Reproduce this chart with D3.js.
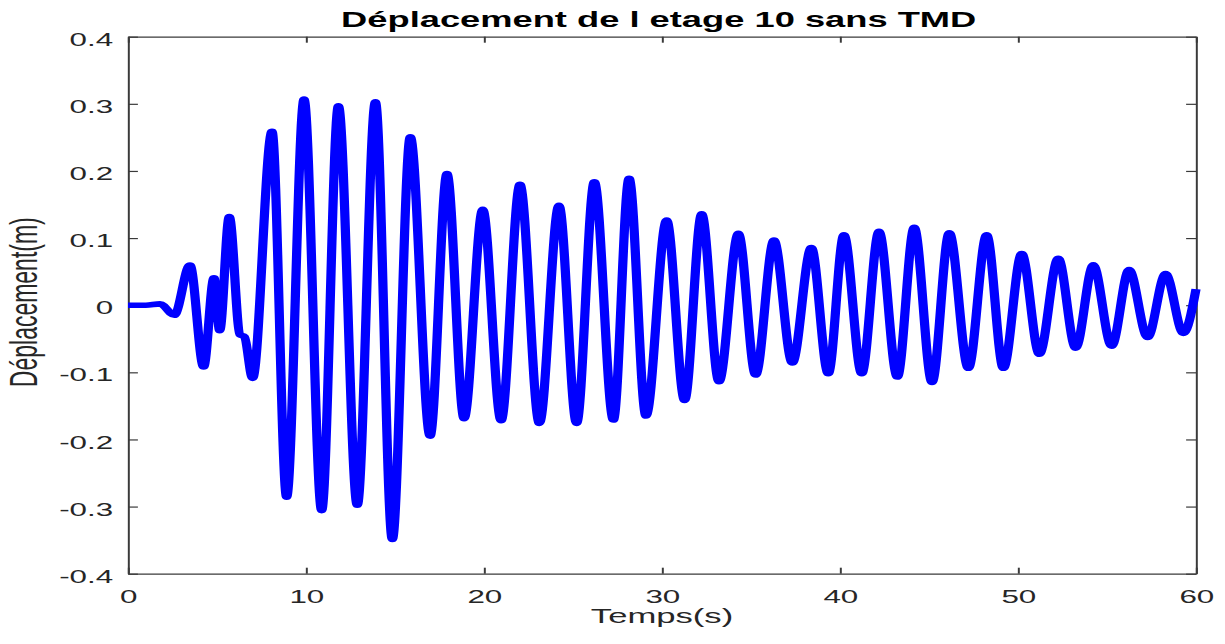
<!DOCTYPE html>
<html>
<head>
<meta charset="utf-8">
<script src="https://cdn.jsdelivr.net/npm/d3@7"></script>
<style>
  html, body { margin: 0; padding: 0; background: #ffffff; }
  svg { display: block; }
  text { font-family: "Liberation Sans", Arial, Helvetica, sans-serif; }
</style>
</head>
<body>
<svg id="chart" width="1225" height="644"></svg>
<script>
// ---- data (turning points of the response) ----
const timeS = [0, 1.0, 1.8, 2.6, 3.48, 4.25, 4.83, 5.15, 5.69, 6.29, 6.54, 7.0,
  8.09, 8.91, 9.89, 10.88, 11.82, 12.88, 13.9, 14.85, 15.86, 16.97, 17.92, 18.88,
  19.93, 20.96, 22.02, 23.11, 24.21, 25.2, 26.2, 27.27, 28.15, 29.1, 30.26, 31.27,
  32.23, 33.2, 34.29, 35.26, 36.29, 37.32, 38.39, 39.34, 40.22, 41.22, 42.19, 43.22,
  44.17, 45.17, 46.14, 47.21, 48.24, 49.18, 50.21, 51.2, 52.26, 53.24, 54.23, 55.26,
  56.24, 57.28, 58.29, 59.29, 60];
const deplacement = [0, 0.0, 0.002, -0.015, 0.060, -0.092, 0.041, -0.038, 0.132, -0.044, -0.047, -0.109,
  0.259, -0.286, 0.307, -0.306, 0.297, -0.298, 0.303, -0.349, 0.251, -0.195, 0.196, -0.169,
  0.143, -0.172, 0.180, -0.176, 0.149, -0.176, 0.184, -0.171, 0.189, -0.165, 0.127, -0.142,
  0.136, -0.114, 0.107, -0.104, 0.097, -0.086, 0.086, -0.102, 0.105, -0.102, 0.110, -0.107,
  0.116, -0.115, 0.108, -0.094, 0.105, -0.094, 0.077, -0.073, 0.070, -0.064, 0.060, -0.061,
  0.053, -0.048, 0.047, -0.042, 0.024];
const xTicks = [0, 10, 20, 30, 40, 50, 60];
const yTicks = [-0.4, -0.3, -0.2, -0.1, 0, 0.1, 0.2, 0.3, 0.4];
const titleText = "Déplacement de l etage 10 sans TMD";
const xLabelText = "Temps(s)";
const yLabelText = "Déplacement(m)";

// ---- layout (the reference is horizontally stretched; reproduce with a group scale) ----
const SX = 1.65;
const L = 128 / SX, R = 1196 / SX, T = 36.7, B = 573.7;

const svg = d3.select("#chart");
svg.append("rect").attr("width", 1225).attr("height", 644).attr("fill", "#ffffff");
const g = svg.append("g").attr("transform", `scale(${SX},1)`);

const x = d3.scaleLinear().domain([0, 60]).range([L, R]);
const y = d3.scaleLinear().domain([-0.4, 0.4]).range([B, T]);

const fmt = d => String(+d.toFixed(1));
const axisColor = "#3a3a3a";
const labelColor = "#262626";

function styleAxis(sel) {
  sel.select(".domain").attr("stroke", axisColor).attr("stroke-width", 1.2);
  sel.selectAll(".tick line").attr("stroke", axisColor).attr("stroke-width", 1.2);
  sel.selectAll(".tick text").attr("fill", labelColor).style("font-size", "19px")
     .style("font-family", '"Liberation Sans", Arial, Helvetica, sans-serif');
}

// bottom
const gx = g.append("g").attr("transform", `translate(0,${B})`)
  .call(d3.axisBottom(x).tickValues(xTicks).tickFormat(fmt).tickSize(-6).tickSizeOuter(0).tickPadding(15.5));
styleAxis(gx);
// top
const gxt = g.append("g").attr("transform", `translate(0,${T})`)
  .call(d3.axisTop(x).tickValues(xTicks).tickFormat("").tickSize(-6).tickSizeOuter(0));
styleAxis(gxt);
// left
const gy = g.append("g").attr("transform", `translate(${L},0)`)
  .call(d3.axisLeft(y).tickValues(yTicks).tickFormat(fmt).tickSize(-6).tickSizeOuter(0).tickPadding(9));
styleAxis(gy);
gy.selectAll(".tick text").attr("dy", "0.45em");
// right
const gyr = g.append("g").attr("transform", `translate(${R},0)`)
  .call(d3.axisRight(y).tickValues(yTicks).tickFormat("").tickSize(-6).tickSizeOuter(0));
styleAxis(gyr);

// line
const data = timeS.map((t, i) => ({ t, v: deplacement[i] }));
const line = d3.line().x(d => x(d.t)).y(d => y(d.v)).curve(d3.curveMonotoneX);
g.append("path").datum(data)
  .attr("d", line)
  .attr("fill", "none")
  .attr("stroke", "#0000ff")
  .attr("stroke-width", 5.6)
  .attr("stroke-linejoin", "round")
  .attr("stroke-linecap", "butt");

// title
g.append("text")
  .attr("x", (L + R) / 2 - 2).attr("y", 26.7)
  .attr("text-anchor", "middle")
  .attr("fill", "#000000")
  .style("font-size", "22px").style("font-weight", "bold")
  .text(titleText);

// x label
g.append("text")
  .attr("x", (L + R) / 2).attr("y", 623.5)
  .attr("text-anchor", "middle")
  .attr("fill", labelColor)
  .style("font-size", "21px")
  .text(xLabelText);

// y label
g.append("text")
  .attr("transform", `translate(22.4,${(T + B) / 2 - 3}) rotate(-90)`)
  .attr("text-anchor", "middle")
  .attr("fill", labelColor)
  .style("font-size", "23px")
  .text(yLabelText);
</script>
</body>
</html>
